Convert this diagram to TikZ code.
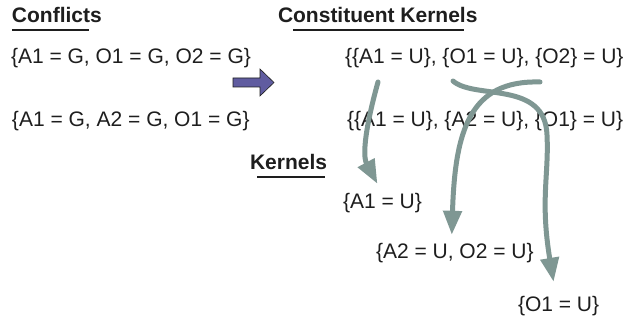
\documentclass[tikz,border=0pt]{standalone}
\usepackage{fontspec}
\setmainfont{Liberation Sans}
\usetikzlibrary{arrows.meta}

\definecolor{txt}{RGB}{30,30,30}
\definecolor{flowc}{RGB}{127,151,147}
\definecolor{blockc}{RGB}{96,92,160}

\begin{document}
\begin{tikzpicture}[x=1pt, y=-1pt,
  every node/.style={inner sep=0pt, outer sep=0pt, anchor=base west, text=txt,
    font=\fontsize{21pt}{25pt}\selectfont},
  title/.style={font=\fontsize{21pt}{25pt}\selectfont\bfseries},
  uline/.style={draw=txt, line width=1.5pt},
  flow/.style={draw=flowc, line width=5pt, line cap=round,
    -{Triangle[length=24pt, width=18pt]}, flowc}]
\fill[white] (0,0) rectangle (628,320);

% headings
\node[title] (conf) at (12,23) {Conflicts};
\node[title] (cons) at (278,23) {Constituent Kernels};
\node[title] (kern) at (250,170) {Kernels};
\draw[uline] (12,30) -- (89,30);
\draw[uline] (293,30) -- (464,30);
\draw[uline] (257,177) -- (325,177);

% conflicts
\node (c1) at (11,64) {\{A1 = G, O1 = G, O2 = G\}};
\node (c2) at (12,127) {\{A1 = G, A2 = G, O1 = G\}};

% block arrow
\filldraw[fill=blockc, draw=txt, line width=0.6pt]
  (233,78) -- (260,78) -- (260,69) -- (274,82.5) -- (260,96) -- (260,87) -- (233,87) -- cycle;

% constituent kernels
\node (ck1) at (345,64) {\{\{A1 = U\}, \{O1 = U\}, \{O2\} = U\}};
\node (ck2) at (347,127) {\{\{A1 = U\}, \{A2 = U\}, \{O1\} = U\}};

% kernels
\node (k1) at (343,208) {\{A1 = U\}};
\node (k2) at (376,258) {\{A2 = U, O2 = U\}};
\node (k3) at (518,311) {\{O1 = U\}};

\coordinate (fromA1) at (378,82);
\coordinate (fromO2) at (540,82);
\coordinate (fromO1) at (453,81);

\draw[flow] (fromA1) .. controls (366,125) and (362,155) .. ([xshift=-5pt,yshift=9pt]k1.north);
\draw[flow] (fromO2) .. controls (470,80) and (455,130) .. ([xshift=-3pt,yshift=8pt]k2.north);
\draw[flow] (fromO1) .. controls (475,100) and (545,80) .. (547,135)
  .. controls (549,175) and (540,200) .. ([xshift=-5pt,yshift=14pt]k3.north);
\end{tikzpicture}
\end{document}
